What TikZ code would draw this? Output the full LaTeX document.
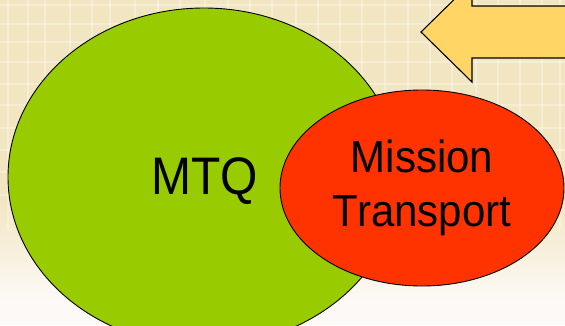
\documentclass[tikz,border=0pt]{standalone}
\usepackage{fontspec}
\usepackage{graphicx}
\setmainfont{Liberation Sans}
\usetikzlibrary{shapes.geometric}
\definecolor{bgtop}{HTML}{F2E6C2}
\definecolor{bgbot}{HTML}{FDF9F6}
\definecolor{grn}{HTML}{99CC00}
\definecolor{rd}{HTML}{FF3300}
\definecolor{arr}{HTML}{FFD666}
\tikzset{
  blob/.style={ellipse, draw=black, line width=0.9pt, inner sep=0pt, align=center},
  plaid/.style={white, opacity=0.3, line width=1.3pt}
}
\begin{document}
\begin{tikzpicture}[x=1pt,y=-1pt]
\useasboundingbox (0,0) rectangle (565,325);
\clip (0,0) rectangle (565,325);
% background
\fill[bgtop] (0,0) rectangle (565,200);
\shade[top color=bgtop, bottom color=bgbot] (0,200) rectangle (565,300);
\fill[bgbot] (0,300) rectangle (565,325);
\foreach \x in {8,28,45,70,92,110,135,158,180,205,228,250,272,296,318,340,362,385,408,430,452,476,498,520,542,560}
  \draw[plaid] (\x,0) -- (\x,230);
\foreach \y in {5,24,42,62,84,105,128,150,172,195}
  \draw[plaid] (0,\y) -- (565,\y);
% arrow
\draw[fill=arr, line width=1.1pt, line join=miter]
  (421,32) -- (472,-18) -- (472,6) -- (600,6) -- (600,58) -- (472,58) -- (472,82) -- cycle;
% ellipses
\node[blob, fill=grn, minimum width=392pt, minimum height=338pt] (mtq) at (204,177) {};
\node at (205,181) (mtqlabel) {\scalebox{1}[1.1]{\fontsize{48}{54}\selectfont MTQ}};
\node[blob, fill=rd, minimum width=284pt, minimum height=196pt,
      font=\fontsize{42}{54}\selectfont] (mt) at (422,188)
  {\scalebox{1}[1.07]{Mission}\\\scalebox{1}[1.07]{Transport}};
\end{tikzpicture}
\end{document}
